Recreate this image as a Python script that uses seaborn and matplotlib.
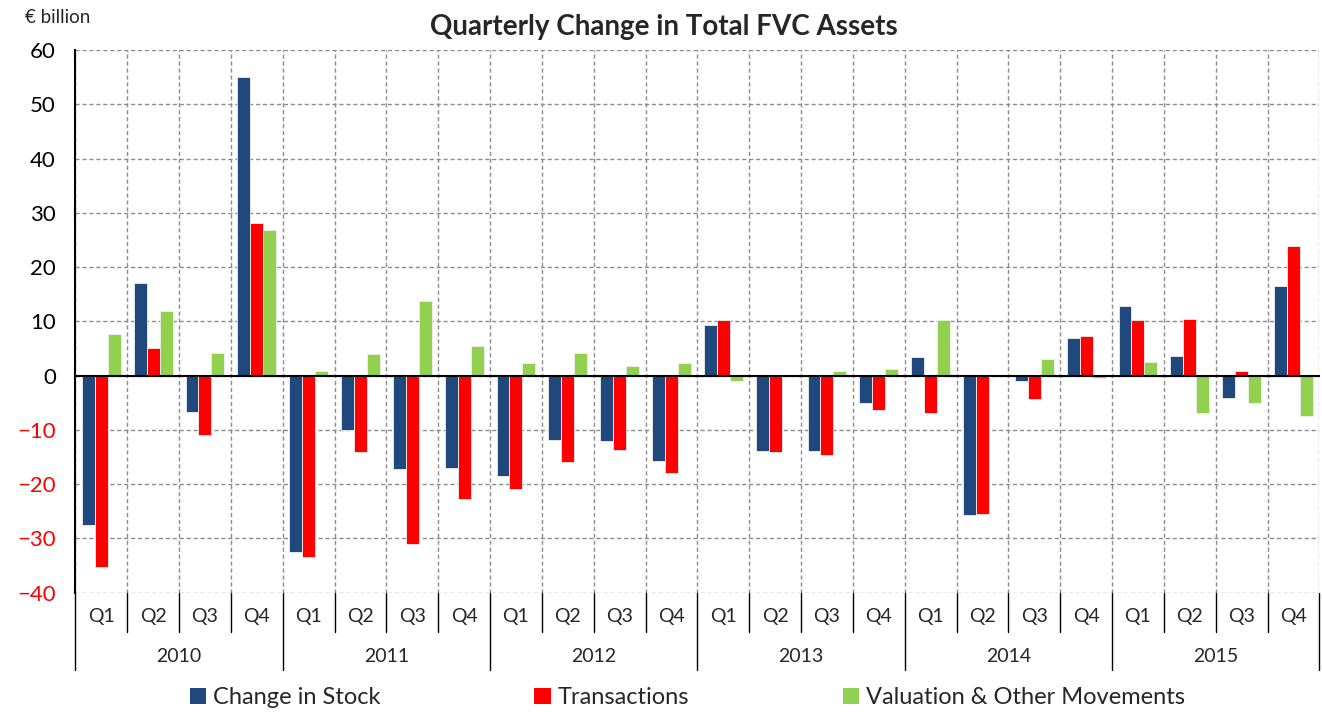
import numpy as np
import pandas as pd
import seaborn as sns
import matplotlib.pyplot as plt
import matplotlib.transforms as mtransforms
from matplotlib.patches import Patch

# Data (EUR billion)
years = ['2010', '2011', '2012', '2013', '2014', '2015']
quarters = ['Q1', 'Q2', 'Q3', 'Q4']
series_names = ['Change in Stock', 'Transactions', 'Valuation & Other Movements']
change_in_stock = [-27.6, 17.1, -6.7, 55.1,
                   -32.5, -10.1, -17.2, -17.1,
                   -18.5, -11.8, -12.0, -15.7,
                   9.3, -13.9, -13.9, -5.0,
                   3.4, -25.7, -1.0, 6.9,
                   12.8, 3.7, -4.1, 16.5]
transactions = [-35.2, 5.1, -11.0, 28.2,
                -33.4, -14.1, -31.0, -22.7,
                -20.9, -16.0, -13.7, -18.0,
                10.3, -14.1, -14.7, -6.3,
                -6.9, -25.5, -4.3, 7.4,
                10.3, 10.4, 0.9, 23.9]
valuation = [7.7, 12.0, 4.2, 26.9,
             0.9, 3.9, 13.8, 5.5,
             2.4, 4.2, 1.8, 2.3,
             -1.0, 0.1, 0.8, 1.3,
             10.3, 0.0, 3.1, -0.5,
             2.5, -6.9, -5.0, -7.5]
colors = ['#1F497D', '#FF0000', '#92D050']

periods = [f'{y} {q}' for y in years for q in quarters]
df = pd.DataFrame({
    'period': periods * 3,
    'series': np.repeat(series_names, len(periods)),
    'value': change_in_stock + transactions + valuation,
})

sns.set_style('white')
plt.rcParams['font.family'] = ['Lato', 'DejaVu Sans']

fig = plt.figure(figsize=(13.22, 7.15), dpi=100)
ax = fig.add_axes([0.057, 0.171, 0.941, 0.759])

sns.barplot(data=df, x='period', y='value', hue='series', order=periods,
            hue_order=series_names, palette=colors, saturation=1, width=0.75,
            edgecolor='#f0f0f0', linewidth=0.6, legend=False, ax=ax)

n = len(periods)
ax.set_xlim(-0.5, n - 0.5)
ax.set_ylim(-40, 60)
ax.set_yticks(range(-40, 61, 10))
ax.set_xticks(np.arange(-0.5, n, 1))
ax.set_xticklabels([])
ax.set_xlabel('')
ax.set_ylabel('')

ax.grid(True, color='#8c8c8c', linestyle=(0, (3, 2)), linewidth=1)
ax.set_axisbelow(True)
for s in ['top', 'right']:
    ax.spines[s].set_visible(False)
ax.spines['bottom'].set_position(('data', 0))
ax.spines['bottom'].set_color('black')
ax.spines['bottom'].set_linewidth(1.5)
ax.spines['left'].set_color('black')
ax.spines['left'].set_linewidth(1.5)
ax.tick_params(axis='x', direction='out', length=5, width=1.5, color='black')
ax.tick_params(axis='y', direction='out', length=8, width=1.5, color='black',
               labelsize=16, pad=6)
for lbl, v in zip(ax.get_yticklabels(), ax.get_yticks()):
    lbl.set_color('red' if v < 0 else 'black')

# Two-level category axis below the plot
trans = mtransforms.blended_transform_factory(ax.transData, ax.transAxes)
for i, p in enumerate(periods):
    ax.text(i, -0.044, p.split()[1], transform=trans, ha='center', va='center',
            fontsize=14)
for i in range(n + 1):
    x = i - 0.5
    bottom = -0.142 if i % 4 == 0 else -0.072
    ax.plot([x, x], [0, bottom], transform=trans, color='black', lw=1,
            clip_on=False)
for j, y in enumerate(years):
    ax.text(j * 4 + 1.5, -0.118, y, transform=trans, ha='center', va='center',
            fontsize=14)

fig.text(0.502, 0.962, 'Quarterly Change in Total FVC Assets', ha='center',
         va='center', fontsize=20, fontweight='bold')
fig.text(0.019, 0.975, '€ billion', ha='left', va='center', fontsize=13.5)

handles = [Patch(facecolor=c, edgecolor='none') for c in colors]
fig.legend(handles, series_names, loc='center', ncol=3,
           bbox_to_anchor=(0.52, 0.024), frameon=False, fontsize=17,
           handlelength=0.7, handleheight=0.7, handletextpad=0.3,
           columnspacing=6.5)

fig.savefig('out.png', dpi=100)
